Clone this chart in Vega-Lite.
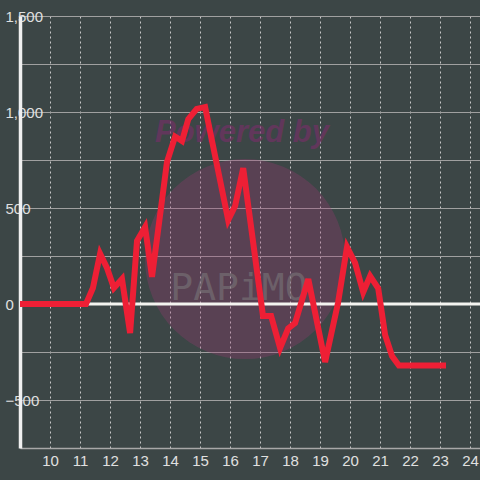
{
  "$schema": "https://vega.github.io/schema/vega-lite/v6.json",
  "width": 460,
  "height": 432,
  "autosize": {"type": "none"},
  "padding": {"left": 20, "top": 16, "right": 0, "bottom": 32},
  "background": "#3c4646",
  "config": {
    "view": {"stroke": null},
    "font": "Liberation Sans"
  },
  "datasets": {
    "series": [
      {"t": 9.0, "v": 0}, {"t": 11.2, "v": 0}, {"t": 11.43, "v": 83}, {"t": 11.67, "v": 262},
      {"t": 11.9, "v": 188}, {"t": 12.13, "v": 83}, {"t": 12.4, "v": 130}, {"t": 12.67, "v": -151},
      {"t": 12.9, "v": 328}, {"t": 13.17, "v": 401}, {"t": 13.4, "v": 141}, {"t": 13.9, "v": 740},
      {"t": 14.17, "v": 872}, {"t": 14.4, "v": 849}, {"t": 14.61, "v": 963}, {"t": 14.89, "v": 1016},
      {"t": 15.17, "v": 1026}, {"t": 15.94, "v": 437}, {"t": 16.17, "v": 510}, {"t": 16.44, "v": 708},
      {"t": 17.1, "v": -62}, {"t": 17.37, "v": -62}, {"t": 17.67, "v": -229}, {"t": 17.94, "v": -127},
      {"t": 18.17, "v": -99}, {"t": 18.61, "v": 130}, {"t": 19.17, "v": -302}, {"t": 19.6, "v": 5},
      {"t": 19.9, "v": 297}, {"t": 20.17, "v": 214}, {"t": 20.44, "v": 62}, {"t": 20.67, "v": 146},
      {"t": 20.94, "v": 82}, {"t": 21.17, "v": -161}, {"t": 21.4, "v": -271}, {"t": 21.63, "v": -320},
      {"t": 23.2, "v": -320}
    ],
    "mark": [{"t": 16.5, "v": 234}],
    "wm1": [{"t": 16.4, "v": 890, "label": "Powered by"}],
    "wm2": [{"t": 16.3, "v": 80, "label": "PAPiMO"}],
    "zero": [{"t": 9, "v": 0}]
  },
  "encoding": {
    "x": {"field": "t", "type": "quantitative", "scale": {"domain": [9, 24.3333], "nice": false, "zero": false},
      "axis": {"values": [10, 11, 12, 13, 14, 15, 16, 17, 18, 19, 20, 21, 22, 23, 24], "title": null,
        "grid": true, "gridColor": "#c8c8c8", "gridDash": [2, 3], "gridWidth": 1,
        "domainColor": "#a8a8a8", "domainWidth": 1.5, "ticks": false, "labelOverlap": false,
        "labelColor": "#e0e0e0", "labelFontSize": 15, "labelPadding": 5, "labelFont": "Liberation Sans"}},
    "y": {"field": "v", "type": "quantitative", "scale": {"domain": [-750, 1500], "nice": false, "zero": false},
      "axis": {"values": [-750, -500, -250, 0, 250, 500, 750, 1000, 1250, 1500], "title": null,
        "labelExpr": "datum.value % 500 === 0 ? format(datum.value, ',') : ''", "labelOverlap": false,
        "grid": true, "gridColor": "#a0a0a0", "gridWidth": 1,
        "domainColor": "#f0f0f0", "domainWidth": 3.5, "ticks": false,
        "labelAlign": "left", "labelPadding": 15, "labelBaseline": "middle",
        "labelColor": "#e0e0e0", "labelFontSize": 15, "labelFont": "Liberation Sans"}}
  },
  "layer": [
    {
      "data": {"name": "mark"},
      "mark": {"type": "point", "shape": "circle", "filled": true, "size": 40000, "color": "#a03975", "opacity": 0.3}
    },
    {
      "data": {"name": "wm1"},
      "mark": {"type": "text", "font": "Liberation Sans", "fontSize": 31, "fontWeight": "bold", "fontStyle": "italic", "color": "#7a2e6a", "opacity": 0.6, "align": "center", "baseline": "middle"},
      "encoding": {"text": {"field": "label"}}
    },
    {
      "data": {"name": "wm2"},
      "mark": {"type": "text", "font": "DejaVu Sans Mono", "fontSize": 38, "color": "#808080", "opacity": 0.5, "align": "center", "baseline": "middle"},
      "encoding": {"text": {"field": "label"}}
    },
    {
      "data": {"name": "zero"},
      "mark": {"type": "rule", "color": "#f4f4f0", "strokeWidth": 3},
      "encoding": {"x": null}
    },
    {
      "data": {"name": "series"},
      "mark": {"type": "line", "color": "#ee1f35", "strokeWidth": 6, "strokeJoin": "miter", "strokeCap": "butt"}
    }
  ]
}
